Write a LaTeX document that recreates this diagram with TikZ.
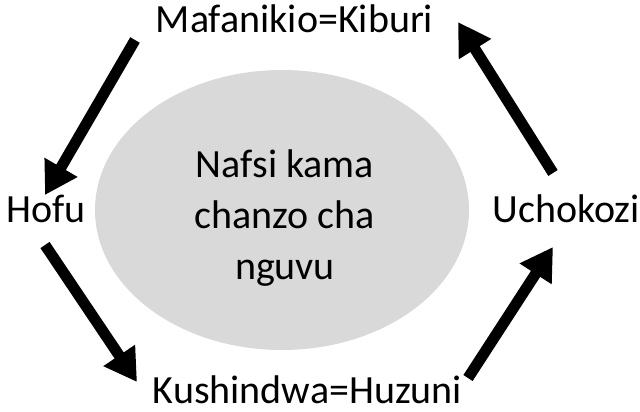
\documentclass[tikz,border=0pt]{standalone}
\usepackage{fontspec}
\setmainfont{Carlito}
\usetikzlibrary{arrows.meta,shapes.geometric}
\definecolor{ellgray}{HTML}{D9D9D9}
\tikzset{
  lbl/.style={font=\fontsize{40}{51}\selectfont, inner sep=0pt, text=black},
  bigarrow/.style={line width=11pt, -{Triangle[length=32pt,width=36pt]}, draw=black},
}
\begin{document}
\begin{tikzpicture}[x=1pt,y=-1pt]
\useasboundingbox (0,0) rectangle (640,412);
\node[ellipse, fill=ellgray, minimum width=374pt, minimum height=280pt, inner sep=0pt] (core) at (282,210) {};
\node[lbl, align=center] (centre) at (285,218) {Nafsi kama\\chanzo cha\\nguvu};
\node[lbl, anchor=base] (top) at (294.5,33) {Mafanikio=Kiburi};
\node[lbl, anchor=base] (left) at (46,222) {Hofu};
\node[lbl, anchor=base] (right) at (566,222) {Uchokozi};
\node[lbl, anchor=base] (bottom) at (307.5,403) {Kushindwa=Huzuni};
\coordinate (a1s) at (135,40);
\coordinate (a1e) at (45,195);
\coordinate (a2s) at (45,245);
\coordinate (a2e) at (137,382);
\coordinate (a3s) at (468,378);
\coordinate (a3e) at (553,247);
\coordinate (a4s) at (553,173);
\coordinate (a4e) at (458,22);
\draw[bigarrow] (a1s) -- (a1e);
\draw[bigarrow] (a2s) -- (a2e);
\draw[bigarrow] (a3s) -- (a3e);
\draw[bigarrow] (a4s) -- (a4e);
\end{tikzpicture}
\end{document}
